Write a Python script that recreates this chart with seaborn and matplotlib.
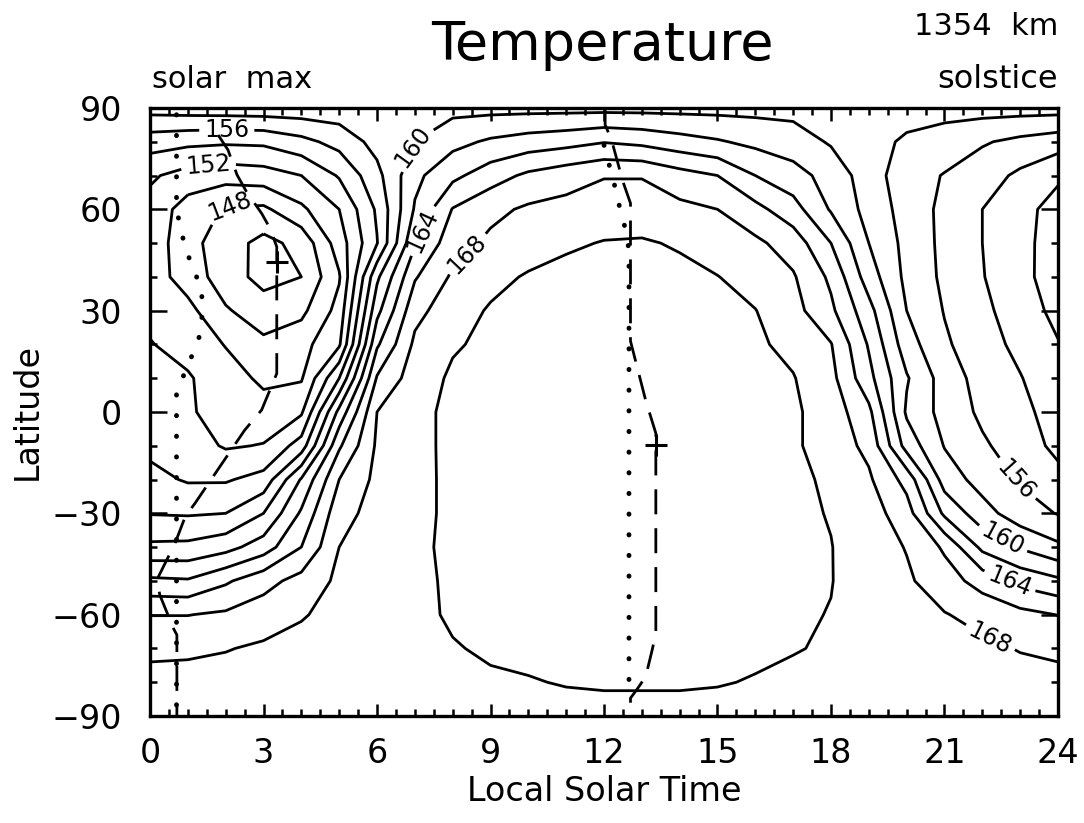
import numpy as np
import matplotlib
matplotlib.use("Agg")
import matplotlib.pyplot as plt
import seaborn as sns

# temperature (K): one row per latitude, columns 0..23 h local solar time
lst_hours = list(range(24))
lat_rows = [90, 80, 70, 60, 50, 40, 30, 20, 10, 0, -10, -20, -30, -40, -50, -60, -70, -80, -90]

t_p90 = [158.8, 159.0, 159.1, 159.2, 159.2, 159.2, 159.3, 159.4, 159.4, 159.4, 159.4, 159.4,
         159.4, 159.4, 159.4, 159.4, 159.4, 159.4, 159.2, 159.0, 158.8, 158.8, 158.8, 158.8]
t_p80 = [154.9, 154.5, 154.3, 154.4, 155.4, 156.7, 158.7, 160.0, 161.4, 162.3, 162.9, 163.3,
         163.9, 163.5, 162.8, 162.2, 161.5, 160.9, 159.8, 158.7, 157.7, 157.0, 156.2, 155.5]
t_p70 = [152.3, 151.2, 150.8, 151.1, 152.0, 154.2, 157.4, 161.5, 163.5, 165.1, 166.4, 167.2,
         167.9, 167.9, 166.8, 166.0, 164.0, 162.8, 161.2, 159.0, 156.8, 155.9, 154.9, 153.6]
t_p60 = [151.3, 149.1, 147.8, 147.6, 149.6, 152.0, 156.3, 162.2, 166.1, 167.5, 168.3, 168.6,
         168.9, 168.9, 168.5, 168.0, 166.6, 164.8, 161.8, 159.3, 157.2, 155.5, 154.0, 152.6]
t_p50 = [151.2, 148.7, 146.9, 145.4, 146.6, 151.0, 155.9, 163.8, 167.2, 168.4, 169.0, 169.7,
         170.1, 170.2, 169.8, 169.0, 168.4, 167.1, 164.0, 160.0, 157.4, 155.5, 154.0, 152.5]
t_p40 = [151.0, 149.1, 147.0, 145.3, 146.0, 149.8, 159.6, 165.8, 168.3, 169.4, 170.2, 170.6,
         170.8, 170.8, 170.5, 170.05, 169.2, 168.2, 165.6, 161.0, 157.5, 155.6, 154.1, 152.6]
t_p30 = [151.5, 150.6, 148.2, 147.0, 147.5, 150.7, 161.4, 167.4, 169.1, 170.2, 170.7, 171.0,
         171.1, 171.1, 170.9, 170.5, 170.05, 168.7, 166.4, 162.7, 158.0, 155.9, 154.5, 152.9]
t_p20 = [152.1, 151.3, 149.9, 148.4, 149.3, 151.7, 163.7, 168.4, 169.8, 170.4, 170.8, 171.1,
         171.3, 171.3, 171.1, 170.8, 170.3, 169.5, 168.1, 163.8, 158.9, 156.3, 154.8, 153.5]
t_p10 = [152.7, 152.2, 150.9, 149.6, 149.8, 156.0, 166.2, 169.0, 170.3, 170.8, 171.1, 171.4,
         171.5, 171.5, 171.3, 171.0, 170.6, 170.1, 168.6, 164.6, 160.2, 157.1, 155.2, 154.1]
t_eq = [153.2, 152.3, 151.0, 150.8, 151.7, 160.6, 168.0, 169.5, 170.4, 170.9, 171.2, 171.5,
        171.6, 171.7, 171.6, 171.2, 170.8, 170.3, 169.1, 166.5, 159.7, 157.3, 155.6, 154.5]
t_m10 = [153.5, 152.9, 151.8, 152.1, 154.9, 163.7, 168.3, 169.5, 170.4, 170.9, 171.3, 171.6,
         171.8, 171.9, 171.8, 171.4, 170.9, 170.3, 169.1, 167.5, 161.2, 157.9, 156.3, 155.0]
t_m20 = [154.6, 153.8, 153.8, 154.7, 160.2, 166.0, 168.5, 169.6, 170.3, 170.8, 171.2, 171.5,
         171.7, 171.8, 171.7, 171.3, 170.9, 170.4, 169.7, 168.3, 165.3, 159.1, 157.2, 155.8]
t_m30 = [155.9, 155.8, 156.0, 158.0, 162.3, 167.3, 168.7, 169.6, 170.3, 170.7, 171.1, 171.4,
         171.6, 171.7, 171.6, 171.2, 170.8, 170.4, 169.9, 168.9, 166.9, 161.6, 158.8, 156.9]
t_m40 = [158.4, 158.5, 159.3, 161.0, 164.0, 168.0, 168.8, 169.7, 170.3, 170.6, 171.0, 171.2,
         171.4, 171.5, 171.4, 171.1, 170.7, 170.3, 170.05, 169.0, 167.9, 165.7, 161.5, 159.8]
t_m50 = [162.4, 162.2, 163.7, 165.3, 166.7, 168.4, 169.1, 169.7, 170.2, 170.5, 170.8, 171.0,
         171.2, 171.3, 171.2, 170.9, 170.6, 170.2, 170.05, 169.2, 168.3, 166.9, 165.2, 163.4]
t_m60 = [165.95, 165.95, 166.3, 167.0, 167.8, 168.8, 169.2, 169.6, 170.2, 170.4, 170.6, 170.8,
         170.9, 171.0, 170.9, 170.7, 170.5, 170.2, 169.95, 169.4, 168.8, 168.1, 167.4, 166.6]
t_m70 = [167.6, 167.7, 167.9, 168.3, 168.8, 169.1, 169.4, 169.6, 169.9, 170.2, 170.4, 170.5,
         170.6, 170.6, 170.6, 170.5, 170.3, 170.1, 169.8, 169.4, 169.0, 168.7, 168.4, 167.9]
t_m80 = [168.6, 168.6, 168.8, 169.0, 169.2, 169.4, 169.5, 169.6, 169.7, 169.8, 169.9, 170.1,
         170.2, 170.2, 170.2, 170.1, 169.9, 169.6, 169.4, 169.2, 169.0, 168.9, 168.8, 168.7]
t_m90 = [169.0, 169.0, 169.0, 169.0, 169.0, 169.0, 169.0, 169.0, 169.0, 169.4, 169.4, 169.4,
         169.4, 169.4, 169.4, 169.4, 169.4, 169.0, 169.0, 169.0, 169.0, 169.0, 169.0, 169.0]

# tracks drawn over the map (local time h, latitude deg)
min_track_lst = [1.8, 2.06, 2.3, 2.55, 2.95, 3.17, 3.35, 3.35, 3.35, 2.95, 2.5, 1.19, 0.93,
                 0.66, 0.22, 0.2, 0.26, 0.62, 0.71, 0.71]
min_track_lat = [82, 77.6, 70.2, 65.2, 58.8, 54.4, 48.9, 20.4, 11.4, 0.6, -5.4, -27, -31,
                 -38.9, -48.8, -51.0, -54.2, -64.1, -66, -90]
max_track_lst = [12.03, 12.03, 12.2, 12.5, 12.7, 12.7, 12.7, 13.1, 13.37, 13.37, 13.27, 13.1,
                 12.86, 12.7, 12.7]
max_track_lat = [90, 85, 80.5, 68.2, 61.8, 47, 21, 3.5, -6.3, -65.5, -70.6, -78.4, -82.3,
                 -84.7, -90]
dots_a_lst = [0.7, 0.7, 0.93, 1.14, 1.37, 1.37, 1.15, 0.93, 0.7, 0.7]
dots_a_lat = [88, 60, 48.5, 42.6, 36, 24.3, 17.8, 11.9, 6, -90]
dots_b_lst = [12.0, 12.15, 12.3, 12.42, 12.56, 12.66, 12.66]
dots_b_lat = [79, 72.6, 66.2, 60.3, 54.4, 48, -80]
extreme_lst = [3.35, 13.37]
extreme_lat = [44.5, -9.8]

levels = np.arange(146, 171, 2)

temp = np.array([t_p90, t_p80, t_p70, t_p60, t_p50, t_p40, t_p30, t_p20, t_p10, t_eq,
                 t_m10, t_m20, t_m30, t_m40, t_m50, t_m60, t_m70, t_m80, t_m90])
temp = np.hstack([temp, temp[:, :1]])  # 24 h is the same as 0 h
lst = np.array(lst_hours + [24])
lat = np.array(lat_rows)

sns.set_style("ticks")
plt.rcParams["font.family"] = ["DejaVu Sans"]
plt.rcParams["text.color"] = "black"
plt.rcParams["axes.labelcolor"] = "black"
plt.rcParams["xtick.color"] = "black"
plt.rcParams["ytick.color"] = "black"

fig = plt.figure(figsize=(10.84, 8.23), dpi=100)
ax = fig.add_axes([0.1384, 0.130, 0.8376, 0.7388])

cs = ax.contour(lst, lat, temp, levels=levels, colors="black", linewidths=2.0,
                linestyles="solid")
# labels on every other level, placed near the same spots as the original
ax.clabel(cs, inline=True, fmt="%d", fontsize=17, inline_spacing=5,
          manual=[(2.03, 84), (1.54, 73.6), (2.1, 61.3), (6.96, 78.5),
                  (7.05, 54.4), (8.2, 48.9), (22.87, -20.2), (22.5, -38.4),
                  (22.7, -50.8), (22.16, -68)])

sns.lineplot(x=min_track_lst, y=min_track_lat, sort=False, estimator=None, ax=ax,
             color="black", linewidth=2.0, linestyle=(0, (9, 5)))
sns.lineplot(x=max_track_lst, y=max_track_lat, sort=False, estimator=None, ax=ax,
             color="black", linewidth=2.0, linestyle=(0, (9, 5)))
sns.lineplot(x=dots_a_lst, y=dots_a_lat, sort=False, estimator=None, ax=ax,
             color="black", linewidth=3.5, linestyle=(0, (0.05, 4.2)),
             dash_capstyle="round")
sns.lineplot(x=dots_b_lst, y=dots_b_lat, sort=False, estimator=None, ax=ax,
             color="black", linewidth=3.5, linestyle=(0, (0.05, 4.2)),
             dash_capstyle="round")
ax.plot(extreme_lst, extreme_lat, ls="none", marker="+", ms=16, mew=2.2, color="black")

ax.set_xlim(0, 24)
ax.set_ylim(-90, 90)
ax.set_xticks(np.arange(0, 25, 3))
ax.set_xticks(np.arange(0, 24.1, 0.5), minor=True)
ax.set_yticks(np.arange(-90, 91, 30))
ax.set_yticks(np.arange(-90, 91, 10), minor=True)
ax.set_yticklabels(["\u221290", "\u221260", "\u221230", "0", "30", "60", "90"])
ax.tick_params(axis="both", which="both", direction="in", top=True, right=True,
               width=1.8, colors="black")
ax.tick_params(axis="x", which="major", length=9, pad=15, labelsize=24)
ax.tick_params(axis="y", which="major", length=12, pad=20, labelsize=24)
ax.tick_params(axis="both", which="minor", length=5)
for sp in ax.spines.values():
    sp.set_linewidth(2.4)
    sp.set_color("black")

ax.set_xlabel("Local Solar Time", fontsize=24, labelpad=4)
ax.set_ylabel("Latitude", fontsize=24, labelpad=6)

fig.text(0.556, 0.945, "Temperature", ha="center", va="center", fontsize=39)
fig.text(0.140, 0.893, "solar  max", ha="left", va="baseline", fontsize=22)
fig.text(0.976, 0.893, "solstice", ha="right", va="baseline", fontsize=23)
fig.text(0.976, 0.958, "1354  km", ha="right", va="baseline", fontsize=22)

fig.savefig("out.png", dpi=100)
